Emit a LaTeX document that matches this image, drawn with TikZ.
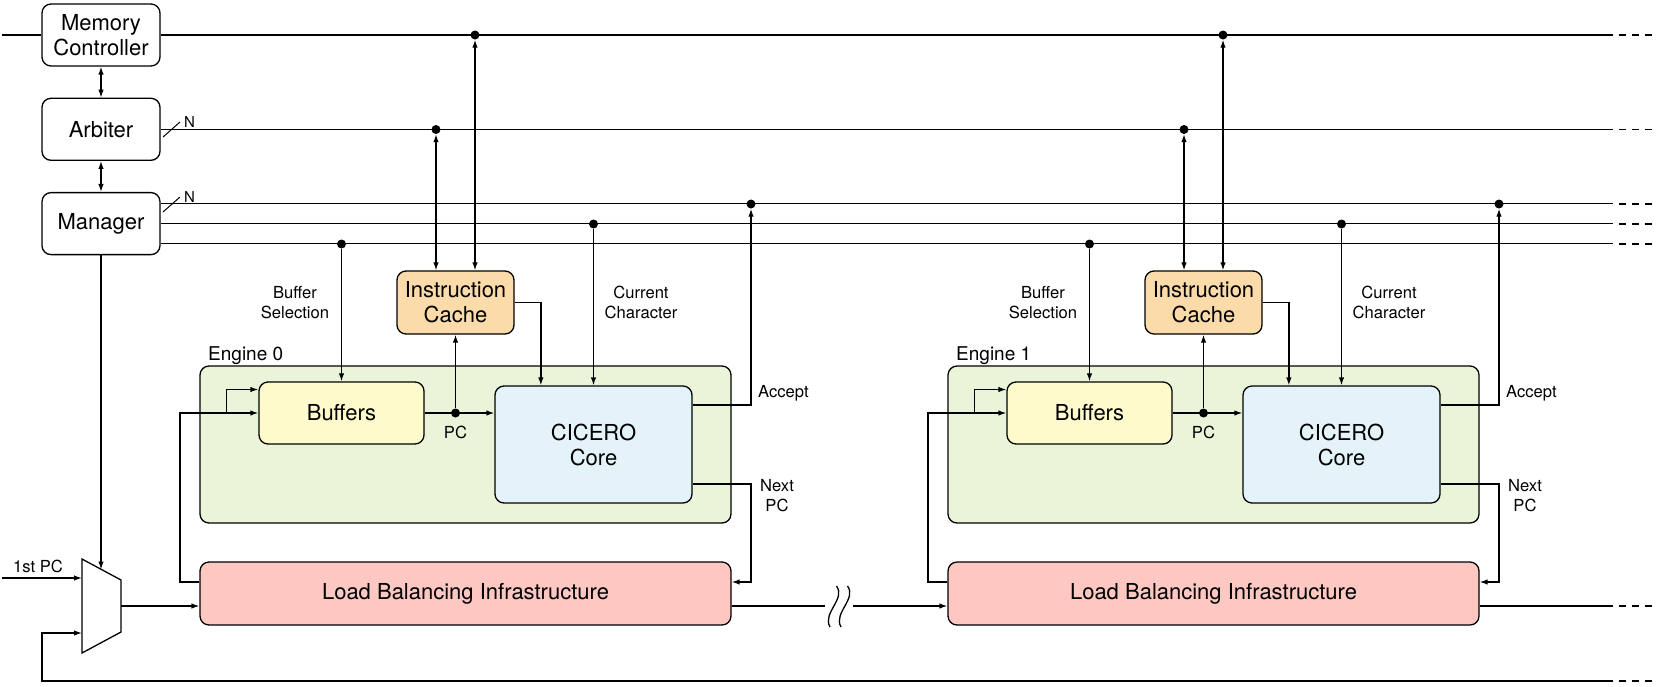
\documentclass[tikz,border=0pt]{standalone}
\usepackage{fontspec}
\setmainfont{TeX Gyre Heros}
\usepackage{xcolor}
\usepackage{tikz}
\usetikzlibrary{arrows.meta,positioning,calc}

\definecolor{bufyellow}{RGB}{255,250,204}
\definecolor{cacheorange}{RGB}{252,219,171}
\definecolor{coreblue}{RGB}{228,243,250}
\definecolor{enginegreen}{RGB}{234,244,217}
\definecolor{lbred}{RGB}{253,199,194}

\tikzset{
  wire/.style={line width=1.3pt},
  tail/.style={line width=1.3pt,dash pattern=on 7pt off 6pt,dash phase=7pt},
  blk/.style={draw,line width=1.3pt,rounded corners=9pt,align=center,
    font=\fontsize{22}{25}\selectfont,inner sep=0pt},
  ctrlbox/.style={blk,fill=white,minimum width=118pt,minimum height=62pt},
  bufbox/.style={blk,fill=bufyellow,minimum width=165pt,minimum height=62pt},
  cachebox/.style={blk,fill=cacheorange,minimum width=117pt,minimum height=63pt},
  corebox/.style={blk,fill=coreblue,minimum width=197pt,minimum height=117pt},
  lbbox/.style={blk,fill=lbred,minimum width=531pt,minimum height=63pt},
  enginebox/.style={blk,fill=enginegreen,minimum width=531pt,minimum height=157pt},
  lbl/.style={font=\fontsize{16.6}{20}\selectfont,align=center,inner sep=0pt},
  nlbl/.style={font=\fontsize{15}{18}\selectfont,inner sep=0pt},
  ename/.style={font=\fontsize{19}{22}\selectfont,inner sep=0pt,anchor=base west},
  tap/.style={circle,fill,inner sep=0pt,minimum size=9pt},
}

\begin{document}
\begin{tikzpicture}[x=1pt,y=-1pt,>={Latex[length=8pt,width=5.5pt]}]
    \useasboundingbox (0,0) rectangle (1659,686);

    % Left column: controllers
    \node[ctrlbox] (mc) at (101,35) {Memory\\Controller};
    \node[ctrlbox,below=31pt of mc] (arb) {Arbiter};
    \node[ctrlbox,below=31pt of arb] (mgr) {Manager};
    \draw[wire,<->] (mc) -- (arb);
    \draw[wire,<->] (arb) -- (mgr);

    % Buses to the engines
    \coordinate (busend) at (1613,0);
    \coordinate (memin) at (2,35);
    \draw[wire] (memin) -- (mc.west);
    \draw[wire] (mc.east) -- (mc.east -| busend);
    \draw[wire] (arb.east) -- (arb.east -| busend);
    \draw[wire] ($(mgr.east)+(0,-20)$) -- ($(mgr.east -| busend)+(0,-20)$);
    \draw[wire] (mgr.east) -- (mgr.east -| busend);
    \draw[wire] ($(mgr.east)+(0,20)$) -- ($(mgr.east -| busend)+(0,20)$);
    \draw[line width=1pt] (163,137) -- (180,122);
    \node[nlbl] (narb) at (189.5,122) {N};
    \draw[line width=1pt] (163,212) -- (180,197);
    \node[nlbl] (nmgr) at (189.5,197) {N};

    % Engine 0
    \begin{scope}
    \node[enginebox] (eng0) at (465.5,444.5) {};
    \node[ename] (ename0) at (208,360) {Engine 0};
    \node[bufbox] (buf0) at (341.5,413) {Buffers};
    \node[cachebox] (ic0) at (455.5,302.5) {Instruction\\Cache};
    \node[corebox] (core0) at (593.5,444.5) {CICERO\\Core};
    \node[lbbox] (lb0) at (465.5,593.5) {Load Balancing Infrastructure};
    \node[tap] (mt0) at (475,35) {};
    \node[tap] (at0) at (436,129.5) {};
    \node[tap] (bs0) at (341.5,244) {};
    \node[tap] (cc0) at (593.5,224) {};
    \node[tap] (ac0) at (751,204) {};
    \node[tap] (pc0) at (455.5,413) {};
    \draw[wire,<->] (mt0) -- (mt0 |- ic0.north);
    \draw[wire,<->] (at0) -- (at0 |- ic0.north);
    \draw[wire,->] (bs0) -- (buf0.north);
    \draw[wire,->] (cc0) -- (core0.north);
    \draw[wire,->] (ic0.east) -| ($(core0.north west)+(46.5,0)$);
    \draw[wire,->] (buf0.east) -- (buf0.east -| core0.west);
    \draw[wire,->] (pc0) -- (ic0.south);
    \draw[wire,->] ($(core0.east)+(0,-39.5)$) -| (ac0);
    \coordinate (np0) at (751,582);
    \draw[wire,->] ($(core0.east)+(0,39.5)$) -| (np0) -- (np0 -| lb0.east);
    \coordinate (fb0) at (180,582);
    \draw[wire,->] (fb0 -| lb0.west) -- (fb0) |- (buf0.west);
    \coordinate (fs0) at (226.5,413);
    \draw[wire,->] (fs0) |- ($(buf0.west)+(0,-23.5)$);
    \node[lbl] (bsl0) at (295,302.5) {Buffer\\Selection};
    \node[lbl] (ccl0) at (641,302.5) {Current\\Character};
    \node[lbl] (pcl0) at (455.5,432) {PC};
    \node[lbl,anchor=west] (acl0) at (758,393) {Accept};
    \node[lbl] (npl0) at (777,496) {Next\\PC};
    \end{scope}

    % Engine 1
    \begin{scope}[xshift=748pt]
    \node[enginebox] (eng1) at (465.5,444.5) {};
    \node[ename] (ename1) at (208,360) {Engine 1};
    \node[bufbox] (buf1) at (341.5,413) {Buffers};
    \node[cachebox] (ic1) at (455.5,302.5) {Instruction\\Cache};
    \node[corebox] (core1) at (593.5,444.5) {CICERO\\Core};
    \node[lbbox] (lb1) at (465.5,593.5) {Load Balancing Infrastructure};
    \node[tap] (mt1) at (475,35) {};
    \node[tap] (at1) at (436,129.5) {};
    \node[tap] (bs1) at (341.5,244) {};
    \node[tap] (cc1) at (593.5,224) {};
    \node[tap] (ac1) at (751,204) {};
    \node[tap] (pc1) at (455.5,413) {};
    \draw[wire,<->] (mt1) -- (mt1 |- ic1.north);
    \draw[wire,<->] (at1) -- (at1 |- ic1.north);
    \draw[wire,->] (bs1) -- (buf1.north);
    \draw[wire,->] (cc1) -- (core1.north);
    \draw[wire,->] (ic1.east) -| ($(core1.north west)+(46.5,0)$);
    \draw[wire,->] (buf1.east) -- (buf1.east -| core1.west);
    \draw[wire,->] (pc1) -- (ic1.south);
    \draw[wire,->] ($(core1.east)+(0,-39.5)$) -| (ac1);
    \coordinate (np1) at (751,582);
    \draw[wire,->] ($(core1.east)+(0,39.5)$) -| (np1) -- (np1 -| lb1.east);
    \coordinate (fb1) at (180,582);
    \draw[wire,->] (fb1 -| lb1.west) -- (fb1) |- (buf1.west);
    \coordinate (fs1) at (226.5,413);
    \draw[wire,->] (fs1) |- ($(buf1.west)+(0,-23.5)$);
    \node[lbl] (bsl1) at (295,302.5) {Buffer\\Selection};
    \node[lbl] (ccl1) at (641,302.5) {Current\\Character};
    \node[lbl] (pcl1) at (455.5,432) {PC};
    \node[lbl,anchor=west] (acl1) at (758,393) {Accept};
    \node[lbl] (npl1) at (777,496) {Next\\PC};
    \end{scope}

    % Chain between the engines
    \coordinate (cut0) at (825,606);
    \coordinate (cut1) at (853,606);
    \draw[wire] ($(lb0.east)+(0,12.5)$) -- (cut0);
    \draw[wire] (836.5,586) .. controls (846,599) and (822,613) .. (830,627);
    \draw[wire] (847.5,586) .. controls (857,599) and (833,613) .. (841,627);
    \draw[wire,->] (cut1) -- (cut1 -| lb1.west);
    \draw[wire] ($(lb1.east)+(0,12.5)$) -- ($(lb1.east -| busend)+(0,12.5)$);

    % Mux in front of engine 0
    \coordinate (mxa) at (82,559);
    \coordinate (mxb) at (121,580);
    \coordinate (mxc) at (121,632);
    \coordinate (mxd) at (82,653);
    \draw[wire,fill=white] (mxa) -- (mxb) -- (mxc) -- (mxd) -- cycle;
    \coordinate (mxtop) at ($(mxa)!0.5!(mxb)$);
    \coordinate (mxo) at ($(mxb)!0.5!(mxc)$);
    \draw[wire,->] (mgr.south) -- (mgr.south |- mxtop);
    \coordinate (pcin) at (2,578);
    \draw[wire,->] (pcin) -- (pcin -| mxa);
    \node[lbl] (pclbl) at (38,566) {1st PC};
    \draw[wire,->] (mxo) -- (mxo -| lb0.west);
    \coordinate (loopl) at (42,681);
    \coordinate (mxf) at (82,633);
    \draw[wire,->] (loopl -| busend) -- (loopl) |- (mxf);

    % dashed ends of the buses
    \foreach \y in {35,129.5,204,224,244,606,681}
        \draw[tail] (1613,\y) -- (1657,\y);
\end{tikzpicture}
\end{document}
